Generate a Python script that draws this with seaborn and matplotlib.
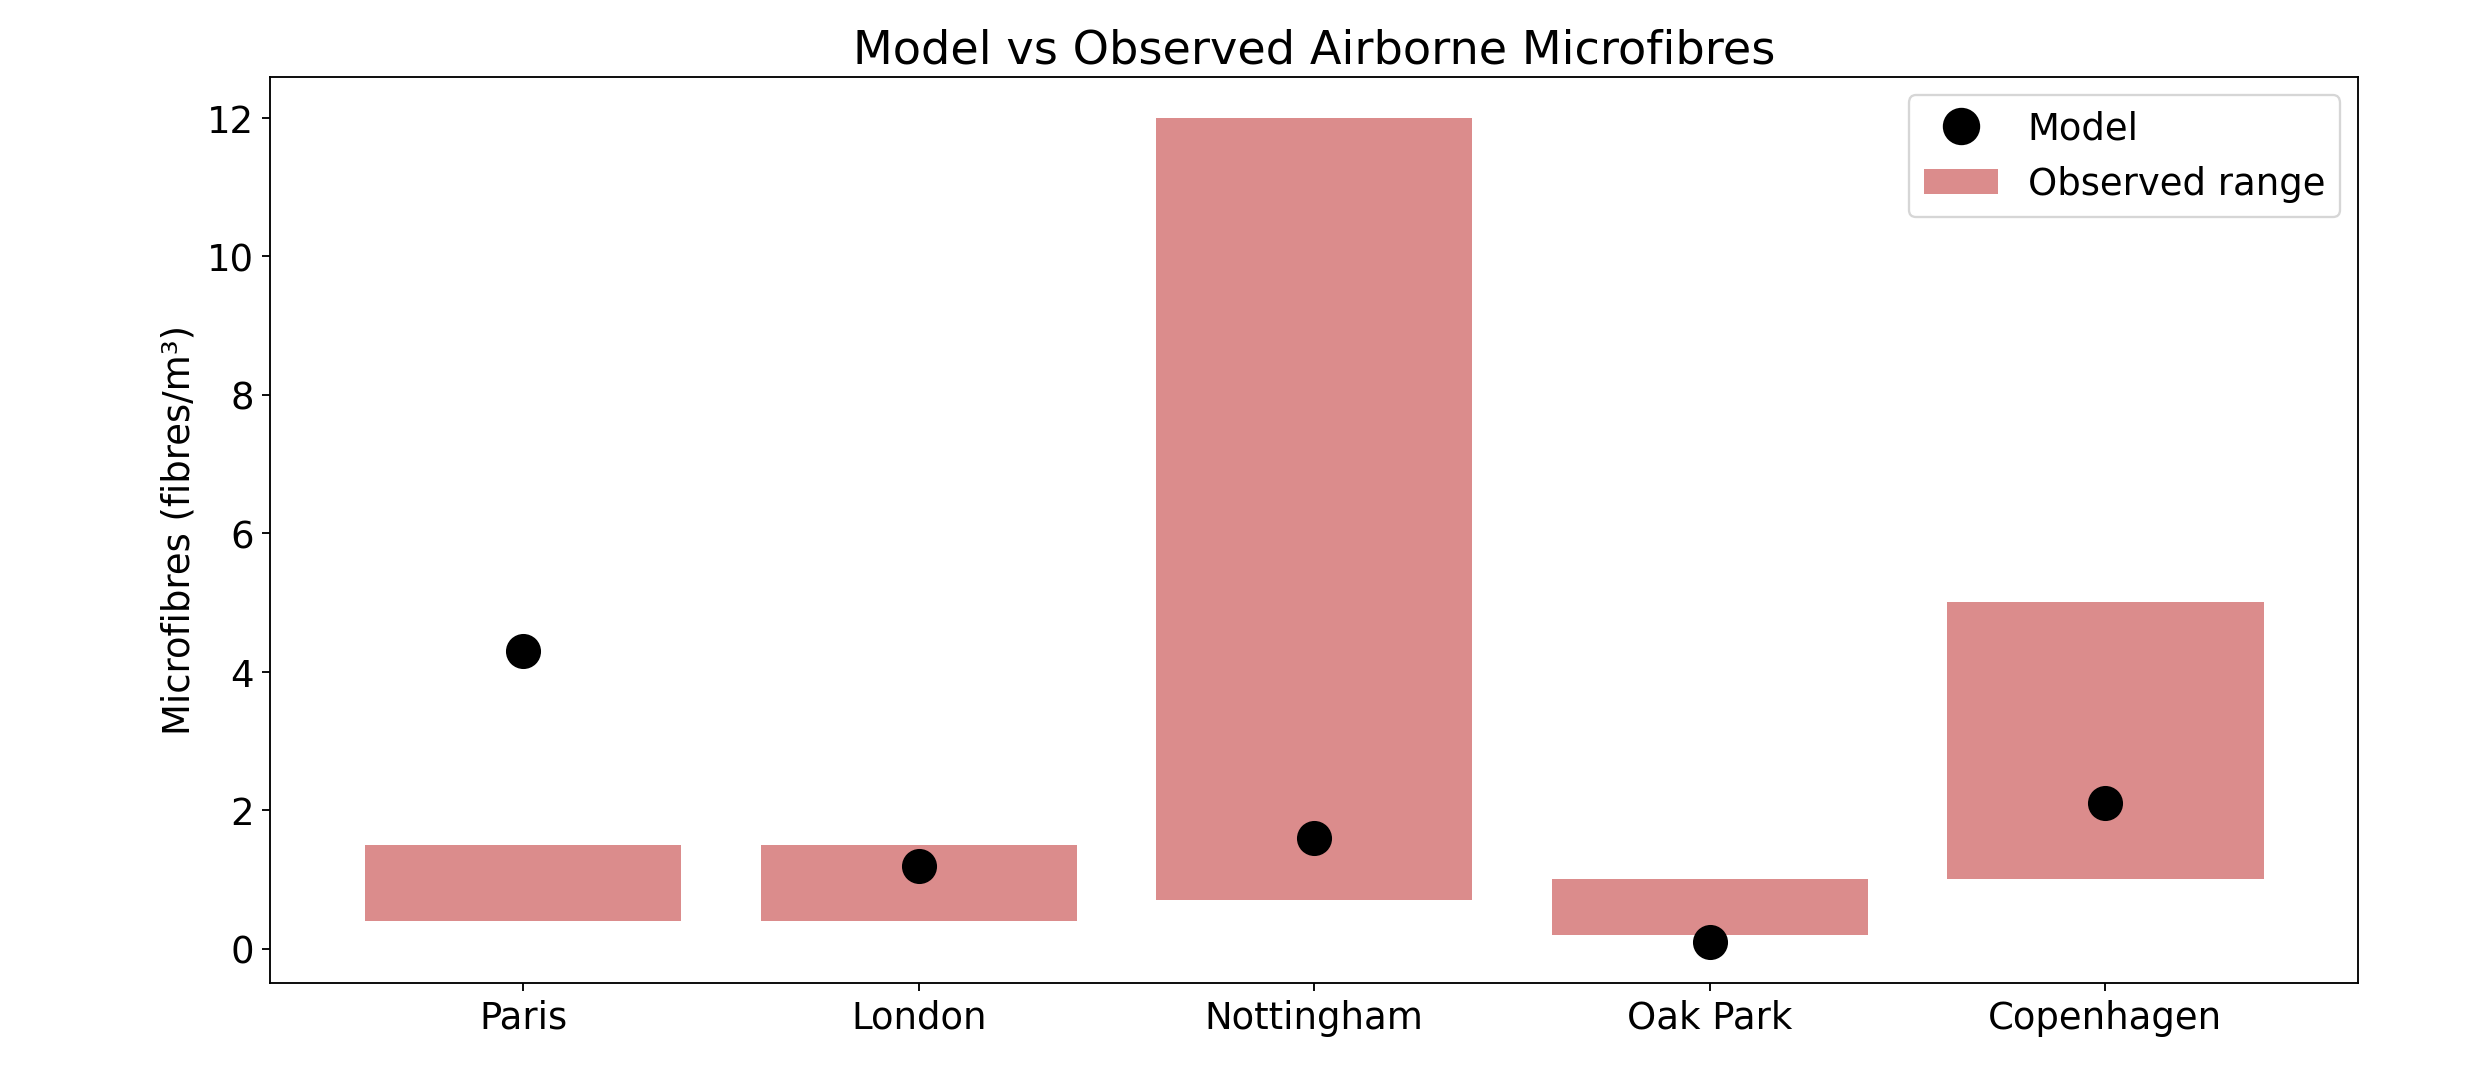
import matplotlib
matplotlib.use("Agg")
import matplotlib.pyplot as plt
from matplotlib.lines import Line2D
from matplotlib.patches import Patch
import numpy as np
import pandas as pd
import seaborn as sns

# Sites, observed concentration ranges and model predictions (fibres/m³)
cities = ["Paris", "London", "Nottingham", "Oak Park", "Copenhagen"]
observed_low = [0.4, 0.4, 0.7, 0.2, 1.0]
observed_high = [1.5, 1.5, 12.0, 1.0, 5.0]
model_values = [4.3, 1.2, 1.6, 0.1, 2.1]

range_color = "indianred"
range_alpha = 0.7

df = pd.DataFrame({
    "city": cities,
    "low": observed_low,
    "high": observed_high,
    "model": model_values,
})
df["span"] = df["high"] - df["low"]

dpi = 166.7
fig, ax = plt.subplots(figsize=(2471.4 / dpi, 1081.4 / dpi), dpi=dpi)
fig.subplots_adjust(left=0.1093, right=0.9543, top=0.9288, bottom=0.0907)

# Observed ranges as floating bars
sns.barplot(data=df, x="city", y="span", bottom=df["low"].to_numpy(),
            color=range_color, alpha=range_alpha, saturation=1,
            width=0.8, errorbar=None, ax=ax)

# Model predictions as points
sns.scatterplot(data=df, x="city", y="model", color="black",
                edgecolor="black", linewidth=1, s=200, zorder=3, ax=ax)

ax.autoscale(enable=True, axis="x")
ax.autoscale_view()

ax.set_xlabel("")
ax.set_ylabel("Microfibres (fibres/m³)", fontsize=16)
ax.set_title("Model vs Observed Airborne Microfibres", fontsize=20)
ax.tick_params(axis="both", labelsize=16)

handles = [
    Line2D([], [], marker="o", linestyle="none", color="black",
           markersize=np.sqrt(200) + 1),
    Patch(facecolor=range_color, alpha=range_alpha, edgecolor="none"),
]
ax.legend(handles, ["Model", "Observed range"], loc="upper right", fontsize=16)

fig.savefig("out.png", dpi=dpi)
